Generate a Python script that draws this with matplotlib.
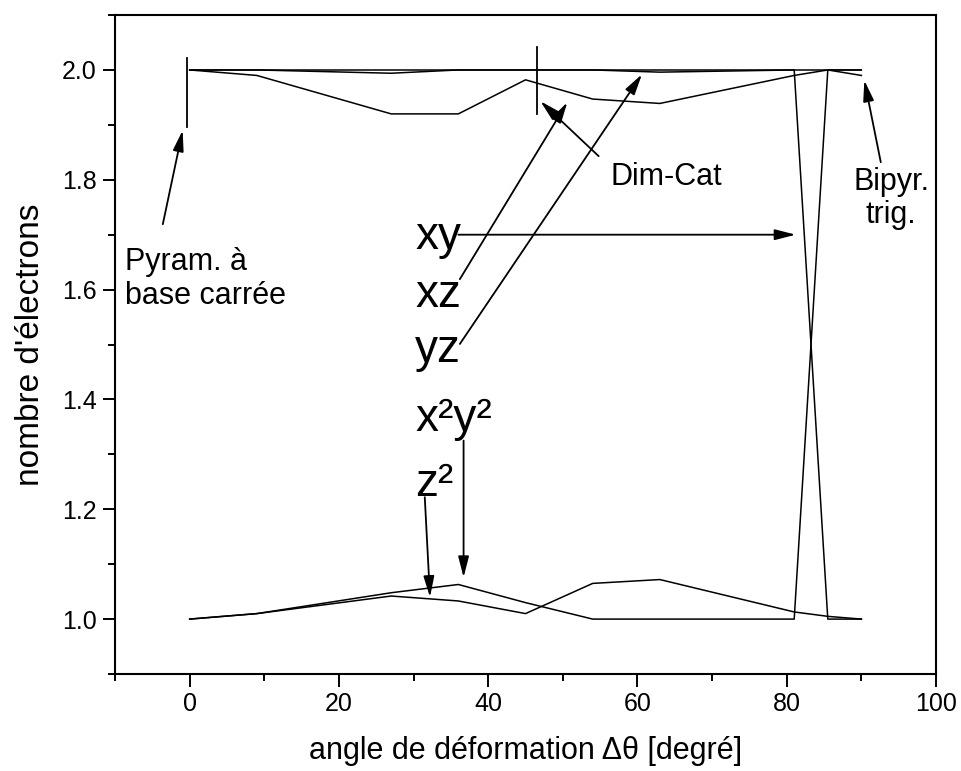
import matplotlib

matplotlib.use("Agg")
import matplotlib.pyplot as plt
from matplotlib.ticker import MultipleLocator


# deformation angle (degrees) and d-orbital occupations
angles = [0, 9, 27, 36, 45, 54, 63, 81, 85.5, 90]
occ_flat = [2.0, 2.0, 2.0, 2.0, 2.0, 2.0, 2.0, 2.0, 2.0, 2.0]
occ_dip = [2.0, 2.0, 1.994, 2.0, 2.0, 2.0, 1.996, 2.0, 1.0, 1.0]
occ_low = [2.0, 1.99, 1.92, 1.92, 1.982, 1.947, 1.939, 1.99, 2.0, 1.99]
occ_b1 = [1.0, 1.01, 1.042, 1.033, 1.01, 1.065, 1.072, 1.013, 1.005, 1.0]
occ_b2 = [1.0, 1.01, 1.048, 1.063, 1.03, 1.0, 1.0, 1.0, 2.0, 2.0]

orbital_labels = ["xy", "xz", "yz", "x²y²", "z²"]
x_ticks = [0, 20, 40, 60, 80, 100]
y_ticks = [1.0, 1.2, 1.4, 1.6, 1.8, 2.0]

plt.rcParams["font.family"] = ["Liberation Sans", "DejaVu Sans"]

fig = plt.figure(figsize=(9.61, 7.71), dpi=100)
ax = fig.add_axes([0.1197, 0.1258, 0.8543, 0.8547])

for occ in [occ_flat, occ_dip, occ_low, occ_b1, occ_b2]:
    ax.plot(angles, occ, color="black", lw=1.1)

ax.set_xlim(-10, 100)
ax.set_ylim(0.9, 2.1)
ax.set_xticks(x_ticks)
ax.set_yticks(y_ticks)
ax.set_yticklabels([f"{v:.1f}" for v in y_ticks])
ax.xaxis.set_minor_locator(MultipleLocator(10))
ax.yaxis.set_minor_locator(MultipleLocator(0.1))
ax.tick_params(which="major", direction="out", length=9, width=1.4,
               labelsize=18, top=False, right=False, pad=4)
ax.tick_params(which="minor", direction="out", length=5, width=1.4,
               top=False, right=False)
for sp in ax.spines.values():
    sp.set_linewidth(1.5)

ax.set_xlabel("angle de déformation Δθ [degré]", fontsize=22, labelpad=14)
ax.set_ylabel("nombre d'électrons", fontsize=24, labelpad=12)

arrow = dict(arrowstyle="-|>,head_length=0.7,head_width=0.18", color="black",
             lw=1.3, mutation_scale=18, shrinkA=0, shrinkB=0)

# marker bars for the two reference geometries
ax.plot([-0.3, -0.3], [1.897, 2.021], color="black", lw=1.3)
ax.plot([46.5, 46.5], [1.919, 2.041], color="black", lw=1.3)

ax.text(-8.7, 1.619, "Pyram. à\nbase carrée", fontsize=22, ha="left",
        va="center", linespacing=1.15)
ax.annotate("", xy=(-0.94, 1.890), xytext=(-3.6, 1.719), arrowprops=arrow)

ax.text(63.8, 1.805, "Dim-Cat", fontsize=22, ha="center", va="center")
ax.annotate("", xy=(47.0, 1.943), xytext=(54.8, 1.843), arrowprops=arrow)

ax.text(94.0, 1.766, "Bipyr.\ntrig.", fontsize=22, ha="center", va="center",
        multialignment="center", linespacing=1.15)
ax.annotate("", xy=(90.4, 1.981), xytext=(92.6, 1.832), arrowprops=arrow)

# orbital labels and their arrows
label_y = [1.674, 1.569, 1.468, 1.343, 1.224]
for lab, yy in zip(orbital_labels, label_y):
    ax.text(30.2, yy, lab, fontsize=33, ha="left", va="baseline")

ax.annotate("", xy=(81.2, 1.700), xytext=(36.0, 1.700), arrowprops=arrow)
ax.annotate("", xy=(50.6, 1.941), xytext=(36.2, 1.619), arrowprops=arrow)
ax.annotate("", xy=(60.6, 1.992), xytext=(36.2, 1.501), arrowprops=arrow)
ax.annotate("", xy=(36.7, 1.076), xytext=(36.7, 1.325), arrowprops=arrow)
ax.annotate("", xy=(32.2, 1.040), xytext=(31.5, 1.222), arrowprops=arrow)

fig.savefig("out.png", dpi=100)
